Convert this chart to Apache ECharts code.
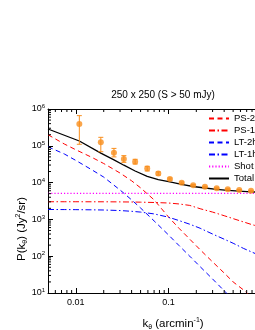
<!DOCTYPE html>
<html><head><meta charset="utf-8">
<script src="https://cdn.jsdelivr.net/npm/echarts@6/dist/echarts.min.js"></script>
<style>html,body{margin:0;padding:0;background:#fff}#c{width:255px;height:330px}</style>
</head><body><div id="c"></div>
<script>
// ---- data ----
const modelK = [0.005, 0.0075, 0.01, 0.015, 0.02, 0.03, 0.04, 0.05, 0.07, 0.1, 0.13, 0.17, 0.22, 0.3, 0.4, 0.5, 0.65, 0.8, 1.0];
const ps2  = [2.0e5, 1.12e5, 7.8e4, 4.8e4, 3.3e4, 1.82e4, 1.12e4, 7200, 3400, 1170, 575, 290, 150, 70, 35, 20, 12, 7.5, 4.4];
const ps1  = [3020, 3020, 3020, 3010, 3010, 2990, 2970, 2940, 2880, 2790, 2630, 2400, 1950, 1580, 1260, 1050, 850, 720, 620];
const lt2h = [9.4e4, 6.0e4, 4.0e4, 2.2e4, 1.41e4, 6300, 3400, 2040, 910, 380, 195, 100, 52, 24, 11.5, 6.6, 3.5, 2.0, 1.2];
const lt1h = [1860, 1850, 1840, 1820, 1800, 1740, 1660, 1580, 1410, 1150, 930, 740, 575, 400, 290, 225, 162, 129, 100];
const shotK = [0.005, 1.0];
const shot  = [5100, 5100];
const totalK = [0.005, 0.0109, 0.0186, 0.0258, 0.033, 0.0437, 0.059, 0.0777, 0.1037, 0.139, 0.185, 0.248, 0.332, 0.437, 0.582, 0.78, 1.0];
const total  = [2.86e5, 1.35e5, 6.3e4, 4.14e4, 2.97e4, 2.07e4, 1.48e4, 1.2e4, 1.04e4, 8900, 7840, 7130, 6580, 6170, 5830, 5620, 5450];
const dataK  = [0.0109, 0.0186, 0.0258, 0.033, 0.0437, 0.059, 0.0777, 0.1037, 0.139, 0.185, 0.248, 0.332, 0.437, 0.582, 0.78];
const dataP  = [3.9e5, 1.25e5, 6.5e4, 4.4e4, 3.7e4, 2.4e4, 1.77e4, 1.25e4, 9900, 8450, 7700, 7000, 6600, 6300, 6000];
const errLo  = [1.1e5, 6.9e4, 5.0e4, 3.55e4, 3.2e4, 2.07e4, 1.6e4, 1.17e4, 9400, 8100, 7450, 6800, 6400, 6150, 5850];
const errHi  = [6.6e5, 1.7e5, 8.5e4, 5.4e4, 4.3e4, 2.77e4, 1.95e4, 1.33e4, 10400, 8800, 7950, 7200, 6800, 6450, 6150];
const xTickLabels = {'-2': '0.01', '-1': '0.1', '0': '1'};
const xMinorTicks = [0.006,0.007,0.008,0.009,0.02,0.03,0.04,0.05,0.06,0.07,0.08,0.09,0.2,0.3,0.4,0.5,0.6,0.7,0.8,0.9];
const yMinorTicks = [20,30,40,50,60,70,80,90,200,300,400,500,600,700,800,900,2000,3000,4000,5000,6000,7000,8000,9000,
  2e4,3e4,4e4,5e4,6e4,7e4,8e4,9e4,2e5,3e5,4e5,5e5,6e5,7e5,8e5,9e5];
const titleText = '250 x 250 (S > 50 mJy)';
const legendNames = ['PS-2', 'PS-1', 'LT-2h', 'LT-1h', 'Shot', 'Total'];

// ---- chart ----
const FONT = '"Liberation Sans", Arial, Helvetica, sans-serif';
const ORANGE = '#f98e1d';
const X0 = 0.005, X1 = 1, Y0 = 10, Y1 = 1e6;
const pairs = (xs, ys) => xs.map((x, i) => [x, ys[i]]);
const chart = echarts.init(document.getElementById('c'), null, {renderer: 'canvas'});

function tickLine(p, dx, dy) {
  return {type: 'line', shape: {x1: p[0], y1: p[1], x2: p[0] + dx, y2: p[1] + dy},
          style: {stroke: '#000', lineWidth: 1}};
}

const axisCommon = {
  axisLine: {onZero: false, lineStyle: {color: '#000', width: 1}},
  axisTick: {inside: true, length: 5, lineStyle: {color: '#000', width: 1}},
  splitLine: {show: false}, minorTick: {show: false}
};

const option = {
  animation: false,
  grid: {left: 48, top: 109, width: 213, height: 184, containLabel: false, outerBoundsMode: 'none'},
  xAxis: [
    Object.assign({type: 'log', logBase: 10, min: X0, max: X1, position: 'bottom',
      axisLabel: {showMinLabel: false, fontSize: 9, color: '#000', fontFamily: FONT, margin: 5,
        formatter: v => { const e = Math.round(Math.log10(v)); return Math.abs(Math.log10(v) - e) < 1e-6 ? (xTickLabels[e] || '') : ''; }}
    }, axisCommon),
    Object.assign({type: 'log', logBase: 10, min: X0, max: X1, position: 'top', axisLabel: {show: false}}, axisCommon)
  ],
  yAxis: [
    Object.assign({type: 'log', logBase: 10, min: Y0, max: Y1, position: 'left',
      axisLabel: {color: '#000', margin: 3, fontFamily: FONT,
        formatter: v => '{b|10}{e|' + Math.round(Math.log10(v)) + '}',
        rich: {b: {fontSize: 9, fontFamily: FONT, color: '#000', lineHeight: 11},
               e: {fontSize: 6, fontFamily: FONT, color: '#000', verticalAlign: 'top', lineHeight: 11}}}
    }, axisCommon)
  ],
  legend: {
    orient: 'vertical', left: 208, top: 113.5, itemWidth: 20, itemHeight: 8, itemGap: 2, padding: 0,
    textStyle: {fontSize: 9.5, color: '#000', fontFamily: FONT},
    itemStyle: {opacity: 0, borderWidth: 0},
    data: legendNames
  },
  graphic: [
    {type: 'text', x: 163, y: 95, style: {text: titleText, fontSize: 10, fontFamily: FONT, fill: '#000',
      align: 'center', verticalAlign: 'middle'}},
    {type: 'text', x: 173, y: 324, style: {text: '{a|k}{s|θ}{a| (arcmin}{u|-1}{a|)}', fill: '#000',
      align: 'center', verticalAlign: 'middle',
      rich: {a: {fontSize: 11.5, fontFamily: FONT, fill: '#000', lineHeight: 14},
             s: {fontSize: 7, fontFamily: FONT, fill: '#000', verticalAlign: 'bottom', lineHeight: 14},
             u: {fontSize: 7, fontFamily: FONT, fill: '#000', verticalAlign: 'top', lineHeight: 14}}}},
    {type: 'text', x: 22, y: 229, rotation: Math.PI / 2, style: {text: '{a|P(k}{s|θ}{a|) (Jy}{u|2}{a|/sr)}', fill: '#000',
      align: 'center', verticalAlign: 'middle',
      rich: {a: {fontSize: 11.5, fontFamily: FONT, fill: '#000', lineHeight: 14},
             s: {fontSize: 7, fontFamily: FONT, fill: '#000', verticalAlign: 'bottom', lineHeight: 14},
             u: {fontSize: 7, fontFamily: FONT, fill: '#000', verticalAlign: 'top', lineHeight: 14}}}}
  ],
  series: [
    {name: 'PS-2', type: 'line', data: pairs(modelK, ps2), symbol: 'none', z: 3,
     lineStyle: {color: '#ff0000', width: 1, type: [5, 3.5]}, itemStyle: {color: '#ff0000'}},
    {name: 'PS-1', type: 'line', data: pairs(modelK, ps1), symbol: 'none', z: 3,
     lineStyle: {color: '#ff0000', width: 1, type: [6, 2.5, 1.5, 2.5]}, itemStyle: {color: '#ff0000'}},
    {name: 'LT-2h', type: 'line', data: pairs(modelK, lt2h), symbol: 'none', z: 3,
     lineStyle: {color: '#0000ff', width: 1, type: [5, 3.5]}, itemStyle: {color: '#0000ff'}},
    {name: 'LT-1h', type: 'line', data: pairs(modelK, lt1h), symbol: 'none', z: 3,
     lineStyle: {color: '#0000ff', width: 1, type: [6, 2.5, 1.5, 2.5]}, itemStyle: {color: '#0000ff'}},
    {name: 'Shot', type: 'line', data: pairs(shotK, shot), symbol: 'none', z: 3,
     lineStyle: {color: '#ff00ff', width: 1.2, type: [1.2, 2]}, itemStyle: {color: '#ff00ff'}},
    {name: 'Total', type: 'line', data: pairs(totalK, total), symbol: 'none', z: 4,
     lineStyle: {color: '#000', width: 1.3, type: 'solid'}, itemStyle: {color: '#000'}},
    {name: 'err', type: 'custom', z: 5, silent: true,
     data: dataK.map((k, i) => [k, errLo[i], errHi[i]]), encode: {x: 0, y: [1, 2]},
     renderItem: (params, api) => {
       const k = api.value(0);
       const pLo = api.coord([k, api.value(1)]), pHi = api.coord([k, api.value(2)]);
       const w = 2.5, st = {stroke: ORANGE, lineWidth: 1};
       return {type: 'group', children: [
         {type: 'line', shape: {x1: pLo[0], y1: pLo[1], x2: pHi[0], y2: pHi[1]}, style: st},
         {type: 'line', shape: {x1: pHi[0] - w, y1: pHi[1], x2: pHi[0] + w, y2: pHi[1]}, style: st},
         {type: 'line', shape: {x1: pLo[0] - w, y1: pLo[1], x2: pLo[0] + w, y2: pLo[1]}, style: st}
       ]};
     }},
    {name: 'data', type: 'scatter', z: 6, data: pairs(dataK, dataP), symbol: 'circle', symbolSize: 6,
     itemStyle: {color: ORANGE}},
    {name: 'xminor', type: 'custom', silent: true, z: 7, clip: false,
     data: xMinorTicks.map(v => [v, Y0]), encode: {x: 0, y: 1},
     renderItem: (params, api) => {
       const v = api.value(0);
       const b = api.coord([v, Y0]), t = api.coord([v, Y1]);
       return {type: 'group', children: [tickLine(b, 0, -3), tickLine(t, 0, 3)]};
     }},
    {name: 'yminor', type: 'custom', silent: true, z: 7, clip: false,
     data: yMinorTicks.map(v => [X0, v]), encode: {x: 0, y: 1},
     renderItem: (params, api) => {
       const p = api.coord([X0, api.value(1)]);
       return tickLine(p, 3, 0);
     }}
  ]
};
chart.setOption(option);
</script>
</body></html>
